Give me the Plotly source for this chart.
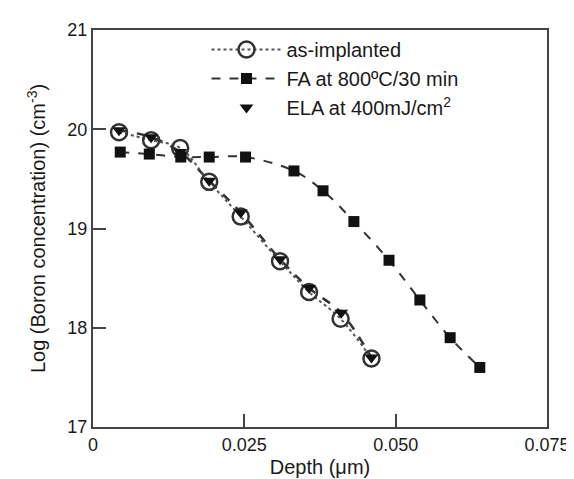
import plotly.graph_objects as go

# Data
asimp_depth = [0.0043, 0.0096, 0.0144, 0.0192, 0.0244, 0.0309, 0.0357, 0.0409, 0.0460]
asimp_log = [19.97, 19.89, 19.81, 19.47, 19.12, 18.67, 18.36, 18.09, 17.69]

fa_depth = [0.0045, 0.0093, 0.0145, 0.0192, 0.0252, 0.0332, 0.0380, 0.0431, 0.0489, 0.0540, 0.0590, 0.0639]
fa_log = [19.77, 19.75, 19.72, 19.72, 19.72, 19.58, 19.38, 19.07, 18.68, 18.28, 17.90, 17.60]

ela_depth = [0.0043, 0.0096, 0.0144, 0.0192, 0.0244, 0.0309, 0.0357, 0.0410, 0.0460]
ela_log = [19.99, 19.92, 19.77, 19.48, 19.16, 18.69, 18.40, 18.15, 17.70]

x_ticks = [0, 0.025, 0.050, 0.075]
x_labels = ["0", "0.025", "0.050", "0.075"]
y_ticks = [17, 18, 19, 20, 21]

FONT = "Liberation Sans, Arial, sans-serif"
AX = "#444444"

fig = go.Figure()

fig.add_trace(go.Scatter(
    x=ela_depth, y=ela_log, mode="lines", showlegend=False,
    line=dict(color="#333333", width=2.5, dash="dash", shape="spline"),
    hoverinfo="skip"))

fig.add_trace(go.Scatter(
    x=asimp_depth, y=asimp_log, mode="lines+markers", name="as-implanted",
    line=dict(color="#555555", width=2, dash="dot", shape="spline"),
    marker=dict(symbol="circle-open", size=16, color="#333333", line=dict(width=2.5))))

fig.add_trace(go.Scatter(
    x=fa_depth, y=fa_log, mode="lines+markers", name="FA at 800ºC/30 min",
    line=dict(color="#333333", width=2, dash="dash", shape="spline"),
    marker=dict(symbol="square", size=11, color="#111111")))

fig.add_trace(go.Scatter(
    x=ela_depth, y=ela_log, mode="markers", name="ELA at 400mJ/cm<sup>2</sup>",
    marker=dict(symbol="triangle-down", size=12, color="#111111")))

fig.update_layout(
    width=574, height=479,
    margin=dict(l=85, r=21, t=18, b=56),
    paper_bgcolor="white", plot_bgcolor="white",
    font=dict(family=FONT, size=18, color="#1a1a1a"),
    showlegend=True,
    legend=dict(x=0.25, y=1.0, xanchor="left", yanchor="top",
                bgcolor="rgba(0,0,0,0)", font=dict(size=20),
                itemwidth=70, tracegroupgap=0),
)

fig.update_xaxes(
    range=[0, 0.075], tickvals=x_ticks, ticktext=x_labels,
    ticklabeloverflow="allow",
    showgrid=False, zeroline=False, showline=True, linecolor=AX, linewidth=2,
    mirror=True, ticks="inside", ticklen=13, tickwidth=2, tickcolor=AX,
    title=dict(text="Depth (μm)", standoff=6, font=dict(size=20)))

fig.update_yaxes(
    range=[17, 21], tickvals=y_ticks,
    ticklabeloverflow="allow",
    showgrid=False, zeroline=False, showline=True, linecolor=AX, linewidth=2,
    mirror=True, ticks="inside", ticklen=13, tickwidth=2, tickcolor=AX,
    title=dict(text="Log (Boron concentration) (cm<sup>-3</sup>)", standoff=16, font=dict(size=20)))

fig.write_html("out.html")
